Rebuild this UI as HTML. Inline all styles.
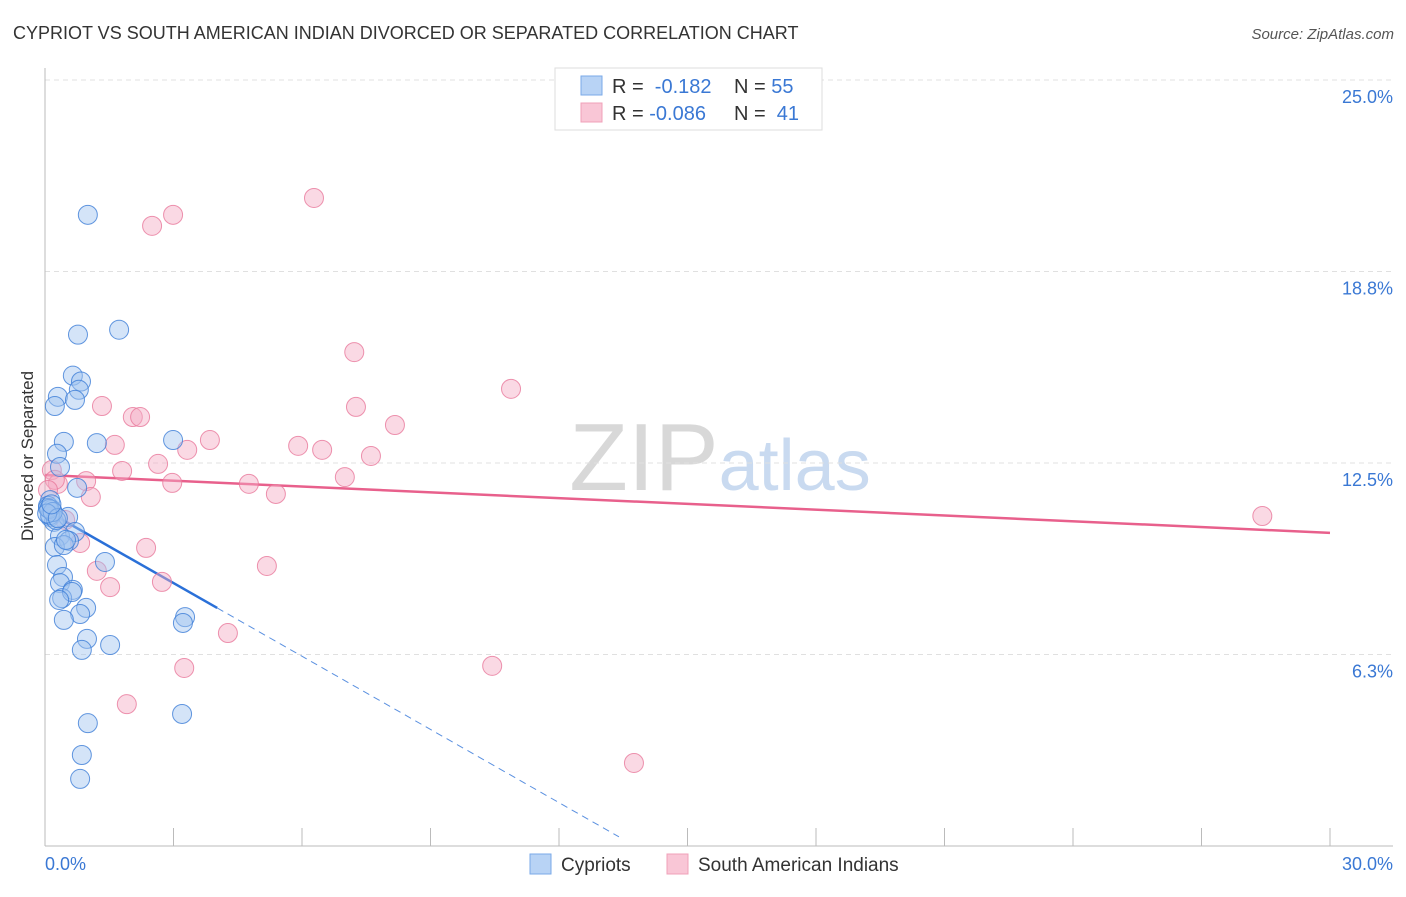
<!DOCTYPE html>
<html><head><meta charset="utf-8"><style>
body{margin:0;background:#fff;font-family:"Liberation Sans",sans-serif}
svg text{font-family:"Liberation Sans",sans-serif}
</style></head><body>
<svg id="chart" width="1406" height="892" xmlns="http://www.w3.org/2000/svg">
<text x="13" y="39" font-size="18" fill="#333">CYPRIOT VS SOUTH AMERICAN INDIAN DIVORCED OR SEPARATED CORRELATION CHART</text>
<text x="1394" y="39" font-size="15" fill="#555" text-anchor="end" font-style="italic">Source: ZipAtlas.com</text>
<text x="720" y="490" font-size="96" text-anchor="middle" fill="#ddd" font-family="Liberation Serif"><tspan fill="#d8d8d8">ZIP</tspan><tspan fill="#c9daf0" font-family="Liberation Sans" font-size="72">atlas</tspan></text>
<text transform="translate(33,456) rotate(-90)" font-size="17" fill="#333" text-anchor="middle">Divorced or Separated</text>
<g id="grid"></g><g id="axes"></g><g id="trend"></g><g id="pts"></g>
<g>
<rect x="555" y="68" width="267" height="62" fill="#fff" stroke="#ddd"/>
<rect x="581" y="76" width="21" height="19" fill="#b8d3f5" stroke="#7aaae8"/>
<rect x="581" y="103" width="21" height="19" fill="#f9c6d6" stroke="#f0a0b8"/>
<text x="612" y="93" font-size="20" fill="#333">R = <tspan fill="#3a78d4">&#160;-0.182</tspan></text>
<text x="734" y="93" font-size="20" fill="#333">N = <tspan fill="#3a78d4">55</tspan></text>
<text x="612" y="120" font-size="20" fill="#333">R = <tspan fill="#3a78d4">-0.086</tspan></text>
<text x="734" y="120" font-size="20" fill="#333">N = <tspan fill="#3a78d4">&#160;41</tspan></text>
</g>
<g>
<rect x="530" y="854" width="21" height="20" fill="#b8d3f5" stroke="#7aaae8"/>
<text x="561" y="871" font-size="19" fill="#333">Cypriots</text>
<rect x="667" y="854" width="21" height="20" fill="#f9c6d6" stroke="#f0a0b8"/>
<text x="698" y="871" font-size="19" fill="#333">South American Indians</text>
</g>
</svg>
<script>
const blueX=[1.00,1.73,0.77,0.65,0.84,0.79,0.30,0.70,0.23,1.21,0.44,2.99,0.28,0.35,0.75,0.12,0.07,0.16,0.12,0.21,0.54,0.70,0.35,0.56,0.23,0.44,1.40,0.28,0.42,0.35,0.65,0.40,0.63,0.96,0.82,0.44,3.27,3.22,0.98,1.52,0.86,1.00,3.20,0.86,0.82,0.12,0.26,0.07,0.49,0.33,0.10,0.18,0.05,0.30,0.15];
const blueY=[20.60,16.85,16.69,15.35,15.16,14.89,14.66,14.56,14.36,13.15,13.19,13.25,12.80,12.37,11.69,11.29,11.10,10.97,10.74,10.58,10.74,10.25,10.12,9.96,9.76,9.82,9.27,9.17,8.78,8.58,8.36,8.09,8.29,7.77,7.57,7.38,7.47,7.28,6.76,6.56,6.40,4.01,4.31,2.97,2.19,10.80,10.64,11.03,9.99,8.03,11.00,10.90,10.85,10.70,11.15];
const pinkX=[6.28,2.99,2.50,7.22,10.88,7.26,1.33,2.05,2.22,8.17,3.85,1.63,5.91,6.47,3.32,7.61,2.64,1.80,0.16,7.00,0.96,0.30,2.97,4.76,5.39,1.07,28.42,0.47,0.82,2.36,1.21,5.18,2.73,1.52,4.27,3.25,10.44,1.91,13.75,0.23,0.07];
const pinkY=[21.15,20.60,20.24,16.12,14.92,14.33,14.36,14.00,14.00,13.74,13.25,13.09,13.06,12.93,12.93,12.73,12.47,12.24,12.27,12.04,11.91,11.82,11.85,11.82,11.49,11.39,10.77,10.64,9.89,9.73,8.98,9.14,8.62,8.45,6.95,5.81,5.88,4.63,2.71,11.95,11.62];
const yTicks=[25,18.75,12.5,6.25];
const yTickLabels=["25.0%","18.8%","12.5%","6.3%"];
const xTicks=[0,3,6,9,12,15,18,21,24,27,30];
const blueTrend=[0,10.97,4.02,7.77,13.4,0.3];
const pinkTrend=[0,12.11,30,10.22];
const NS="http://www.w3.org/2000/svg";
const X=v=>45+v/30*1285, Y=v=>846-v/25*766;
function mk(p,t,a){const e=document.createElementNS(NS,t);for(const k in a)e.setAttribute(k,a[k]);document.getElementById(p).appendChild(e);return e;}
yTicks.forEach((t,i)=>{
 const l=mk('grid','line',{x1:45,x2:1393,y1:Y(t),y2:Y(t),stroke:'#e0e0e0','stroke-dasharray':'5,4'});
 
 
 const tx=mk('grid','text',{x:1393,y:Y(t)+23,'font-size':18,fill:'#3a78d4','text-anchor':'end'});
 tx.textContent=yTickLabels[i];
 
 
});
let a=mk('axes','line',{x1:45,x2:45,y1:68,y2:846,stroke:'#bbb'});


a=mk('axes','line',{x1:45,x2:1393,y1:846,y2:846,stroke:'#bbb'});


xTicks.forEach(t=>{const l=mk('axes','line',{x1:X(t),x2:X(t),y1:828,y2:846,stroke:'#bbb'});
 
 });
let t0=mk('axes','text',{x:45,y:870,'font-size':18,fill:'#3a78d4'});t0.textContent='0.0%';


t0=mk('axes','text',{x:1393,y:870,'font-size':18,fill:'#3a78d4','text-anchor':'end'});t0.textContent='30.0%';


pinkX.forEach((x,i)=>{const c=mk('pts','circle',{cx:X(x),cy:Y(pinkY[i]),r:9.5,fill:'rgba(245,170,195,0.45)',stroke:'rgba(232,120,155,0.8)','stroke-width':1});
 
 });
blueX.forEach((x,i)=>{const c=mk('pts','circle',{cx:X(x),cy:Y(blueY[i]),r:9.5,fill:'rgba(160,195,240,0.45)',stroke:'rgba(60,125,215,0.8)','stroke-width':1});
 
 });
let tl=mk('trend','line',{x1:X(pinkTrend[0]),y1:Y(pinkTrend[1]),x2:X(pinkTrend[2]),y2:Y(pinkTrend[3]),stroke:'#e8608c','stroke-width':2.5});


tl=mk('trend','line',{x1:X(blueTrend[0]),y1:Y(blueTrend[1]),x2:X(blueTrend[2]),y2:Y(blueTrend[3]),stroke:'#2a70d8','stroke-width':2.5});


tl=mk('trend','line',{x1:X(blueTrend[2]),y1:Y(blueTrend[3]),x2:X(blueTrend[4]),y2:Y(blueTrend[5]),stroke:'#5a90e0','stroke-width':1,'stroke-dasharray':'7,5'});


</script>
</body></html>
